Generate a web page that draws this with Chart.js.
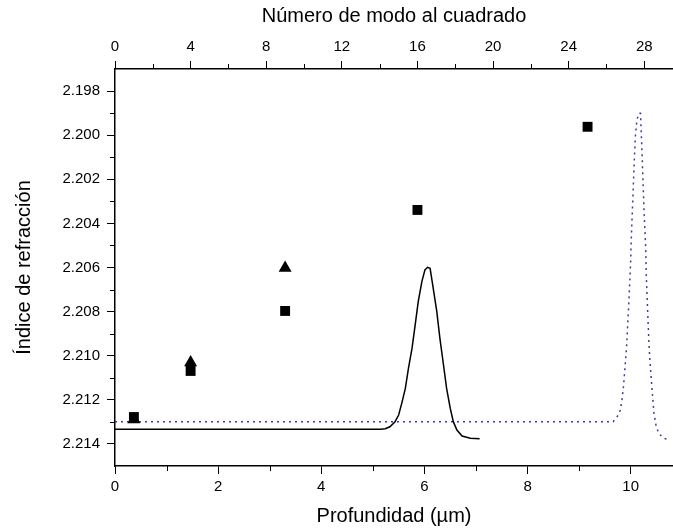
<!DOCTYPE html>
<html><head><meta charset="utf-8">
<script src="https://cdn.jsdelivr.net/npm/chart.js@4.4.1/dist/chart.umd.min.js"></script>
<style>html,body{margin:0;padding:0;background:#fff}</style>
</head><body>
<canvas id="c" width="673" height="529"></canvas>
<script>
// Solid profile (depth in µm vs refractive index)
const depthSolid = [0, 5.15, 5.24, 5.33, 5.43, 5.50, 5.56, 5.63, 5.69, 5.76, 5.82, 5.88, 5.95, 6.01, 6.06, 6.11, 6.17, 6.24, 6.30, 6.37, 6.43, 6.50, 6.56, 6.63, 6.73, 6.89, 7.07];
const indexSolid = [2.21333, 2.21333, 2.21331, 2.21322, 2.21299, 2.21269, 2.21216, 2.21148, 2.21057, 2.20966, 2.20861, 2.20755, 2.20664, 2.20611, 2.20599, 2.20604, 2.20694, 2.20800, 2.20921, 2.21042, 2.21148, 2.21238, 2.21299, 2.21337, 2.21364, 2.21374, 2.21376];
// Dotted profile
const depthDotted = [0, 9.66, 9.74, 9.80, 9.83, 9.86, 9.89, 9.92, 9.94, 9.96, 9.98, 10.00, 10.01, 10.03, 10.05, 10.07, 10.09, 10.12, 10.16, 10.19, 10.20, 10.22, 10.24, 10.26, 10.29, 10.30, 10.32, 10.34, 10.36, 10.39, 10.42, 10.45, 10.49, 10.54, 10.64, 10.77];
const indexDotted = [2.21299, 2.21299, 2.21276, 2.21246, 2.21201, 2.21140, 2.21050, 2.20959, 2.20868, 2.20778, 2.20672, 2.20566, 2.20475, 2.20354, 2.20234, 2.20113, 2.20007, 2.19931, 2.19901, 2.19901, 2.19962, 2.20082, 2.20218, 2.20354, 2.20506, 2.20626, 2.20747, 2.20868, 2.20974, 2.21080, 2.21170, 2.21261, 2.21314, 2.21352, 2.21374, 2.21382];
// Mode indices (mode number squared) – squares and triangles
const modeSquares = [1, 4, 9, 16, 25];
const indexSquares = [2.21278, 2.21069, 2.20797, 2.20339, 2.19962];
const modeTriangles = [1, 4, 9];
const indexTriangles = [2.21289, 2.21031, 2.20602];
// Tick labels
const yTicks = [2.198, 2.200, 2.202, 2.204, 2.206, 2.208, 2.210, 2.212, 2.214];
const yMinor = [2.199, 2.201, 2.203, 2.205, 2.207, 2.209, 2.211, 2.213];
const bottomTicks = [0, 2, 4, 6, 8, 10];
const bottomMinor = [1, 3, 5, 7, 9];
const topTicks = [0, 4, 8, 12, 16, 20, 24, 28];
const topMinor = [2, 6, 10, 14, 18, 22, 26];

const zip = (xs, ys) => xs.map((x, i) => ({x: x, y: ys[i]}));
const FONT = "'Liberation Sans', Arial, sans-serif";

const minorTicks = {
  id: 'minorTicks',
  afterDraw(chart) {
    const ctx = chart.ctx, a = chart.chartArea;
    const sx = chart.scales.x, st = chart.scales.x2, sy = chart.scales.y;
    ctx.save();
    ctx.strokeStyle = '#000';
    ctx.lineWidth = 1;
    ctx.beginPath();
    bottomMinor.forEach(v => { const p = Math.round(sx.getPixelForValue(v)) + 0.5; ctx.moveTo(p, a.bottom); ctx.lineTo(p, a.bottom + 5); });
    topMinor.forEach(v => { const p = Math.round(st.getPixelForValue(v)) + 0.5; ctx.moveTo(p, a.top); ctx.lineTo(p, a.top - 5); });
    yMinor.forEach(v => { const p = Math.round(sy.getPixelForValue(v)) + 0.5; ctx.moveTo(a.left, p); ctx.lineTo(a.left - 5, p); });
    ctx.stroke();
    ctx.restore();
  }
};

const fitH = h => s => { s.height = h; s.paddingLeft = 0; s.paddingRight = 0; s.paddingTop = 0; s.paddingBottom = 0; };

new Chart(document.getElementById('c'), {
  type: 'scatter',
  data: {
    datasets: [
      { label: 'sq', data: zip(modeSquares, indexSquares), xAxisID: 'x2', yAxisID: 'y',
        pointStyle: 'rect', pointRadius: 7, backgroundColor: '#000', borderColor: '#000', borderWidth: 0 },
      { label: 'tri', data: zip(modeTriangles, indexTriangles), xAxisID: 'x2', yAxisID: 'y',
        pointStyle: 'triangle', pointRadius: 7.5, backgroundColor: '#000', borderColor: '#000', borderWidth: 0 },
      { label: 'solid', data: zip(depthSolid, indexSolid), xAxisID: 'x', yAxisID: 'y',
        showLine: true, pointRadius: 0, borderColor: '#000', borderWidth: 1.5, fill: false, tension: 0 },
      { label: 'dotted', data: zip(depthDotted, indexDotted), xAxisID: 'x', yAxisID: 'y',
        showLine: true, pointRadius: 0, borderColor: '#3c3ca0', borderWidth: 1.5, borderDash: [2, 4], fill: false, tension: 0 }
    ]
  },
  options: {
    responsive: false,
    devicePixelRatio: 1,
    animation: false,
    layout: { padding: 0, autoPadding: false },
    plugins: { legend: { display: false }, tooltip: { enabled: false } },
    scales: {
      x: {
        type: 'linear', position: 'bottom', min: 0, max: 10.82,
        afterBuildTicks: s => { s.ticks = bottomTicks.map(v => ({value: v})); },
        afterFit: fitH(63),
        grid: { display: true, drawOnChartArea: false, drawTicks: true, tickLength: 8, color: '#000', lineWidth: 1 },
        border: { display: true, color: '#000', width: 1.5 },
        ticks: { color: '#000', padding: 4, font: { family: FONT, size: 15 }, callback: v => String(v), maxRotation: 0 },
        title: { display: true, text: 'Profundidad (\u00b5m)', color: '#000', font: { family: FONT, size: 20 }, padding: { top: 0, bottom: 1 } }
      },
      x2: {
        type: 'linear', position: 'top', min: 0, max: 29.52,
        afterBuildTicks: s => { s.ticks = topTicks.map(v => ({value: v})); },
        afterFit: fitH(69),
        grid: { display: true, drawOnChartArea: false, drawTicks: true, tickLength: 8, color: '#000', lineWidth: 1 },
        border: { display: true, color: '#000', width: 1.5 },
        ticks: { color: '#000', padding: 5, font: { family: FONT, size: 15 }, callback: v => String(v), maxRotation: 0 },
        title: { display: true, text: 'N\u00famero de modo al cuadrado', color: '#000', font: { family: FONT, size: 20 }, padding: { top: 4, bottom: 0 } }
      },
      y: {
        type: 'linear', position: 'left', reverse: true, min: 2.197, max: 2.215,
        afterBuildTicks: s => { s.ticks = yTicks.map(v => ({value: v})); },
        afterFit: s => { s.width = 115; s.paddingTop = 0; s.paddingBottom = 0; s.paddingLeft = 0; s.paddingRight = 0; },
        grid: { display: true, drawOnChartArea: false, drawTicks: true, tickLength: 8, color: '#000', lineWidth: 1 },
        border: { display: true, color: '#000', width: 1.5 },
        ticks: { color: '#000', padding: 7, font: { family: FONT, size: 15 }, callback: v => Number(v).toFixed(3) },
        title: { display: true, text: '\u00cdndice de refracci\u00f3n', color: '#000', font: { family: FONT, size: 20 }, padding: { top: 12, bottom: 0 } }
      }
    }
  },
  plugins: [minorTicks]
});
</script>
</body></html>
